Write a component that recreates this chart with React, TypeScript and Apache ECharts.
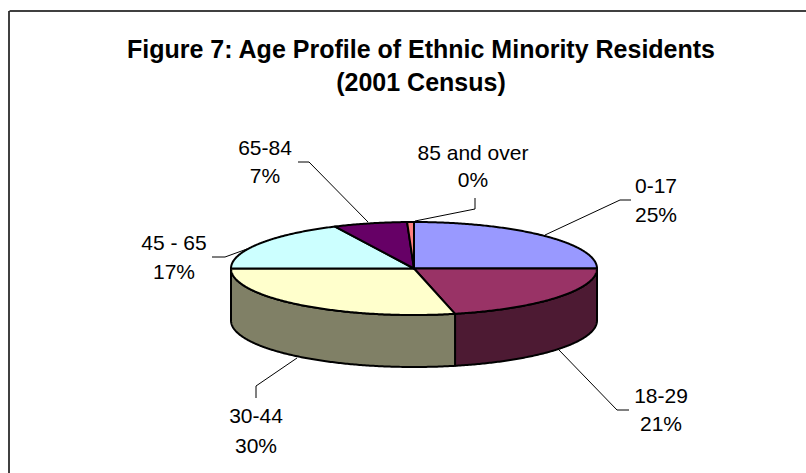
import React, { useEffect, useRef } from "react";
import * as echarts from "echarts";

const titleText = "Figure 7: Age Profile of Ethnic Minority Residents\n(2001 Census)";
const categories = ["0-17", "18-29", "30-44", "45 - 65", "65-84", "85 and over"];
const percentLabels = ["25%", "21%", "30%", "17%", "7%", "0%"];
// Slice shares as they are drawn in the picture (per cent of the circle)
const sliceShares = [25, 21.4, 28.6, 17.9, 6.5, 0.6];
const topColors = ["#9999FF", "#993366", "#FFFFCC", "#CCFFFF", "#660066", "#FF8080"];
const sideColors = ["#4D4D80", "#4D1A33", "#808066", "#668080", "#330033", "#804040"];

const CX = 414;
const CY = 268.5;
const RX = 183;
const RY = 46.5;
const DEPTH = 52;

const labelAnchors = [
  { x: 656, y1: 185, y2: 214, line: [[545, 235], [620, 200], [631, 200]] },
  { x: 661, y1: 395, y2: 423, line: [[559, 350], [617, 410], [629, 410]] },
  { x: 256, y1: 415, y2: 445, line: [[297, 358], [256, 386], [256, 398]] },
  { x: 174, y1: 242, y2: 271, line: [[247, 249], [225, 257], [212, 257]] },
  { x: 265, y1: 147, y2: 175, line: [[298, 162], [309, 162], [368, 222]] },
  { x: 473, y1: 152, y2: 179, line: [[475, 198], [475, 209], [415, 221]] },
];

const total = sliceShares.reduce((a, b) => a + b, 0);
const starts: number[] = [];
sliceShares.reduce((acc, v, i) => {
  starts[i] = acc;
  return acc + v;
}, 0);
const toAngle = (share: number) => (share / total) * Math.PI * 2;
const onEllipse = (t: number, dy = 0): number[] => [
  CX + RX * Math.sin(t),
  CY - RY * Math.cos(t) + dy,
];
const arc = (a: number, b: number, dy = 0): number[][] => {
  const n = Math.max(2, Math.ceil(Math.abs(b - a) / 0.01));
  const pts: number[][] = [];
  for (let i = 0; i <= n; i++) pts.push(onEllipse(a + ((b - a) * i) / n, dy));
  return pts;
};

const renderTop = (params: any, api: any) => {
  const i = params.dataIndex;
  const a = toAngle(starts[i]);
  const b = a + toAngle(api.value(0));
  return {
    type: "polygon",
    shape: { points: [[CX, CY], ...arc(a, b)] },
    style: { fill: topColors[i], stroke: "#000", lineWidth: 2, lineJoin: "round" },
  };
};

const renderSide = (params: any, api: any) => {
  const i = params.dataIndex;
  const a = Math.max(toAngle(starts[i]), Math.PI / 2);
  const b = Math.min(toAngle(starts[i]) + toAngle(api.value(0)), (Math.PI * 3) / 2);
  if (b <= a) return null;
  return {
    type: "polygon",
    shape: { points: [...arc(a, b), ...arc(b, a, DEPTH)] },
    style: { fill: sideColors[i], stroke: "#000", lineWidth: 2, lineJoin: "round" },
  };
};

const labelGraphics = categories.flatMap((name, i) => {
  const p = labelAnchors[i];
  const font = { fontFamily: "Liberation Sans", fontSize: 21, fill: "#000", align: "center", verticalAlign: "middle" };
  return [
    { type: "polyline", shape: { points: p.line }, style: { stroke: "#000", lineWidth: 1, fill: "none" } },
    { type: "text", style: { ...font, text: name, x: p.x, y: p.y1 } },
    { type: "text", style: { ...font, text: percentLabels[i], x: p.x, y: p.y2 } },
  ];
});

export default function App() {
  const ref = useRef<HTMLDivElement>(null);
  useEffect(() => {
    document.body.style.margin = "0";
    const chart = echarts.init(ref.current!, undefined, { renderer: "svg" });
    const data = sliceShares.map((v, i) => ({ name: categories[i], value: v }));
    chart.setOption({
      animation: false,
      backgroundColor: "#fff",
      title: {
        text: titleText,
        left: 416,
        top: 27,
        textAlign: "center",
        textStyle: {
          fontFamily: "Liberation Sans",
          fontSize: 25,
          fontWeight: "bold",
          color: "#000",
          lineHeight: 33,
        },
      },
      series: [
        { type: "custom", coordinateSystem: "none", renderItem: renderSide, data, silent: true, z: 2 },
        { type: "custom", coordinateSystem: "none", renderItem: renderTop, data, silent: true, z: 3 },
      ],
      graphic: [
        { type: "line", z: 1, shape: { x1: 9.5, y1: 11, x2: 806, y2: 11 }, style: { stroke: "#000", lineWidth: 1.5 } },
        { type: "line", z: 1, shape: { x1: 9, y1: 11, x2: 9, y2: 473 }, style: { stroke: "#000", lineWidth: 1.5 } },
        ...labelGraphics,
      ],
    });
    return () => chart.dispose();
  }, []);
  return <div ref={ref} style={{ width: 806, height: 473 }} />;
}
